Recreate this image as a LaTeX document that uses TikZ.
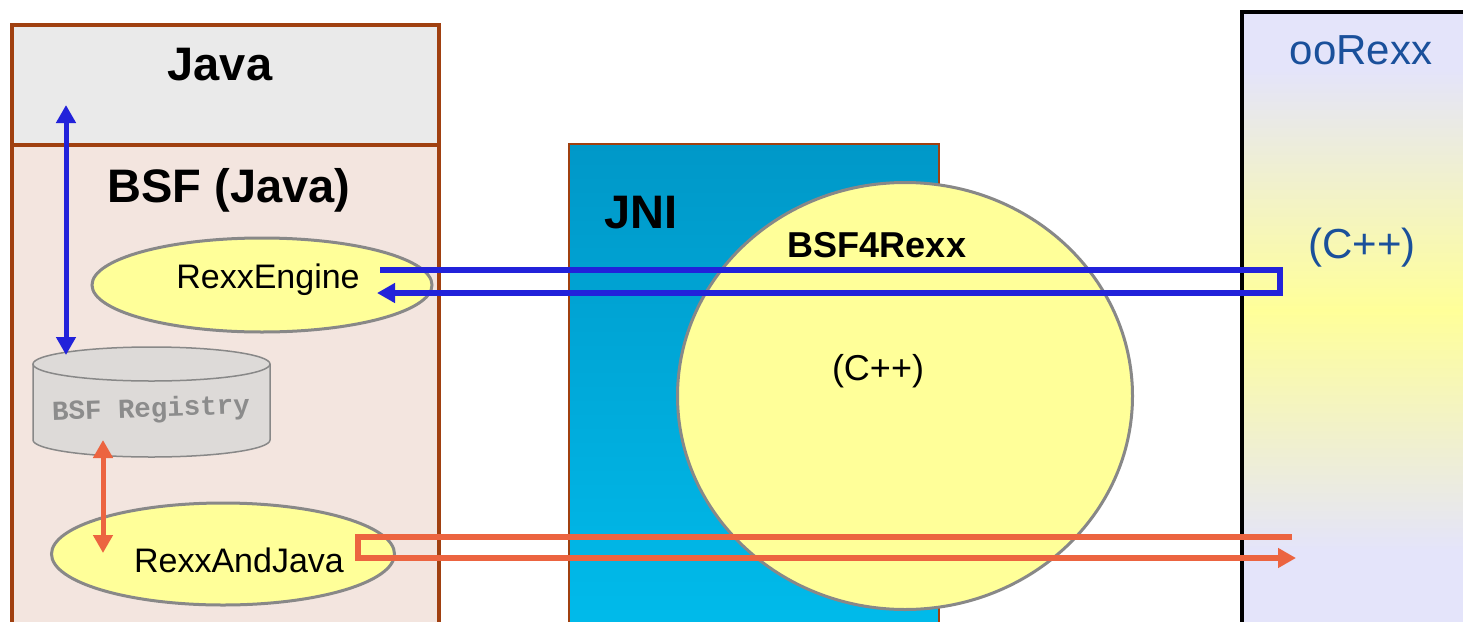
\documentclass[tikz,border=0pt]{standalone}
\usepackage{fontspec}
\setmainfont{Liberation Sans}
\newfontfamily\regfont{Liberation Mono}
\usetikzlibrary{arrows.meta,shapes.geometric}
\definecolor{brownb}{RGB}{160,64,16}
\definecolor{javagray}{RGB}{234,234,234}
\definecolor{bsfpink}{RGB}{243,229,223}
\definecolor{bluel}{RGB}{34,34,218}
\definecolor{orangel}{RGB}{236,100,64}
\definecolor{yel}{RGB}{255,255,153}
\definecolor{ellgray}{RGB}{136,136,136}
\definecolor{cylfill}{RGB}{221,218,216}
\definecolor{reggray}{RGB}{140,140,140}
\definecolor{jnitop}{RGB}{0,152,200}
\definecolor{jnibot}{RGB}{0,188,236}
\definecolor{lav}{RGB}{228,228,250}
\definecolor{oodark}{RGB}{26,80,155}
\tikzset{
  layerbox/.style={draw=brownb, line width=4, inner sep=0, anchor=north west},
  ellnode/.style={ellipse, draw=ellgray, line width=3, fill=yel, inner sep=0},
  bigtitle/.style={anchor=base, font=\bfseries\fontsize{47}{52}\selectfont},
  midtext/.style={anchor=base, font=\fontsize{34}{40}\selectfont},
  ootext/.style={anchor=base, text=oodark, font=\fontsize{42}{48}\selectfont},
  bluearrow/.style={draw=bluel, line width=5, {Triangle[width=19pt,length=18pt]}-{Triangle[width=19pt,length=18pt]}},
  orangearrow/.style={draw=orangel, line width=5, {Triangle[width=19pt,length=18pt]}-{Triangle[width=19pt,length=18pt]}},
  blueloop/.style={draw=bluel, line width=6, -{Triangle[width=19pt,length=18pt]}},
  orangeloop/.style={draw=orangel, line width=6, -{Triangle[width=19pt,length=18pt]}},
}
\begin{document}
\begin{tikzpicture}[x=1pt,y=-1pt]
\clip (0,0) rectangle (1463,621);
\fill[white] (0,0) rectangle (1463,621);
% Java / BSF stack
\node[layerbox, fill=bsfpink, minimum width=427, minimum height=520] (bsf) at (10,143) {};
\node[layerbox, fill=javagray, minimum width=427, minimum height=120] (java) at (10,23) {};
\node[bigtitle] (javat) at (220,80) {Java};
\node[bigtitle] (bsft) at (229,202) {BSF (Java)};
% BSF registry cylinder
\fill[cylfill] (33,364) rectangle (270,440);
\fill[cylfill] (151.5,440) ellipse[x radius=118.5, y radius=17];
\draw[ellgray, line width=1.5] (33,364) -- (33,440) arc[start angle=180, end angle=0, x radius=118.5, y radius=17] -- (270,364);
\draw[ellgray, line width=1.5, fill=cylfill] (151.5,364) ellipse[x radius=118.5, y radius=17];
\node[font=\regfont\bfseries\fontsize{27.5}{30}\selectfont, text=reggray, rotate=2] (reg) at (151,410) {BSF Registry};
% ellipses
\node[ellnode, minimum width=340, minimum height=94] (re) at (262,285) {};
\node[midtext] (ret) at (268,288) {RexxEngine};
\node[ellnode, minimum width=343, minimum height=102] (raj) at (223,554) {};
\node[midtext] (rajt) at (239,572) {RexxAndJava};
% vertical arrows
\coordinate (bt) at (66,105);
\coordinate (bb) at (66,355);
\draw[bluearrow] (bt) -- (bb);
\coordinate (ot) at (103,440);
\coordinate (ob) at (103,553);
\draw[orangearrow] (ot) -- (ob);
% JNI
\node[draw=brownb, line width=1.5, top color=jnitop, bottom color=jnibot, inner sep=0, anchor=north west, minimum width=370, minimum height=500] (jni) at (568,143) {};
\node[bigtitle] (jnit) at (641,228) {JNI};
% BSF4Rexx circle
\node[ellnode, minimum width=455, minimum height=427] (bsf4) at (905,396) {};
\node[anchor=base, font=\bfseries\fontsize{36}{40}\selectfont] (bsf4t) at (877,257) {BSF4Rexx};
\node[anchor=base, font=\fontsize{36}{40}\selectfont] (cpp1) at (878,380) {(C++)};
% ooRexx
\fill[lav] (1240,10) rectangle (1480,640);
\shade[top color=lav, bottom color=lav, middle color=yel] (1240,70) rectangle (1480,550);
\node[draw=black, line width=3.5, inner sep=0, anchor=north west, minimum width=240, minimum height=640] (oo) at (1240,10) {};
\node[ootext] (oot) at (1361,64) {ooRexx};
\node[ootext] (cpp2) at (1362,258) {(C++)};
% loops
\coordinate (b1) at (380,270);
\coordinate (b2) at (1280,270);
\coordinate (b3) at (1280,293);
\coordinate (b4) at (377,293);
\draw[blueloop] (b1) -- (b2) -- (b3) -- (b4);
\coordinate (o1) at (1292,537);
\coordinate (o2) at (358,537);
\coordinate (o3) at (358,558);
\coordinate (o4) at (1296,558);
\draw[orangeloop] (o1) -- (o2) -- (o3) -- (o4);
\end{tikzpicture}
\end{document}
